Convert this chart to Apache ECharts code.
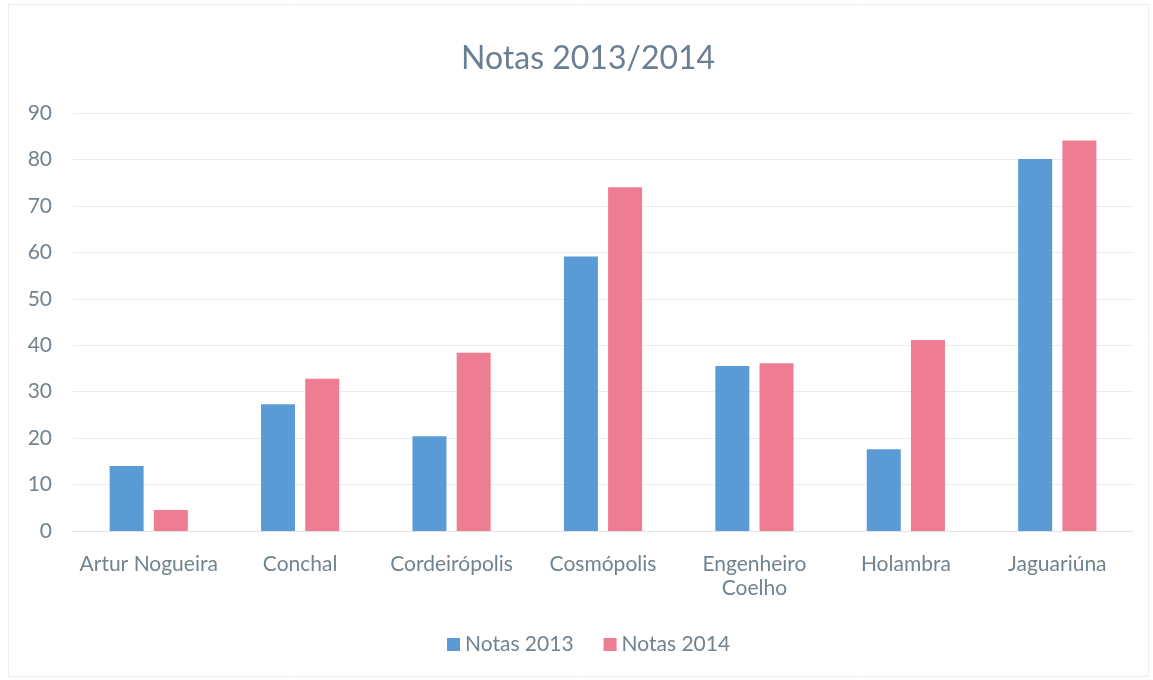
<!DOCTYPE html>
<html>
<head>
<meta charset="utf-8">
<script src="https://cdn.jsdelivr.net/npm/echarts@6/dist/echarts.min.js"></script>
<style>
html,body{margin:0;padding:0;background:#fff;}
#chart{width:1153px;height:680px;}
</style>
</head>
<body>
<div id="chart"></div>
<script>
var categories = ['Artur Nogueira', 'Conchal', 'Cordeirópolis', 'Cosmópolis', 'Engenheiro\nCoelho', 'Holambra', 'Jaguariúna'];
var notas2013 = [14.0, 27.3, 20.4, 59.1, 35.5, 17.6, 80.1];
var notas2014 = [4.5, 32.8, 38.4, 74.0, 36.1, 41.1, 84.1];
var seriesNames = ['Notas 2013', 'Notas 2014'];
var titleText = 'Notas 2013/2014';

var textColor = '#71838f';
var chart = echarts.init(document.getElementById('chart'));
chart.setOption({
  backgroundColor: '#ffffff',
  animation: false,
  textStyle: { fontFamily: 'Lato' },
  title: {
    text: titleText,
    left: 456,
    top: 38,
    textStyle: { color: '#6a7f94', fontSize: 32, fontWeight: 'normal', fontFamily: 'Lato' }
  },
  legend: {
    data: seriesNames,
    top: 629,
    left: 442,
    itemWidth: 13,
    itemHeight: 13,
    itemGap: 30,
    icon: 'rect',
    textStyle: { color: textColor, fontSize: 21, fontFamily: 'Lato' }
  },
  grid: { left: 73, right: 20, top: 113, bottom: 149, containLabel: false },
  xAxis: {
    type: 'category',
    data: categories,
    axisLine: { show: true, lineStyle: { color: '#e3e3e3' } },
    axisTick: { show: false },
    axisLabel: { color: textColor, fontSize: 21, margin: 21, lineHeight: 24, interval: 0 }
  },
  yAxis: {
    type: 'value',
    min: 0,
    max: 90,
    interval: 10,
    axisLine: { show: false },
    axisTick: { show: false },
    splitLine: { lineStyle: { color: '#ebebeb' } },
    axisLabel: { color: textColor, fontSize: 21, margin: 21 }
  },
  series: [
    { name: seriesNames[0], type: 'bar', data: notas2013, barWidth: 34, barGap: '30%', itemStyle: { color: '#5b9bd5' } },
    { name: seriesNames[1], type: 'bar', data: notas2014, barWidth: 34, barGap: '30%', itemStyle: { color: '#ee7d93' } }
  ],
  graphic: [{
    type: 'rect',
    shape: { x: 8.5, y: 4.5, width: 1140, height: 672 },
    style: { fill: 'none', stroke: '#ececec', lineWidth: 1 },
    silent: true
  }]
});
</script>
</body>
</html>
